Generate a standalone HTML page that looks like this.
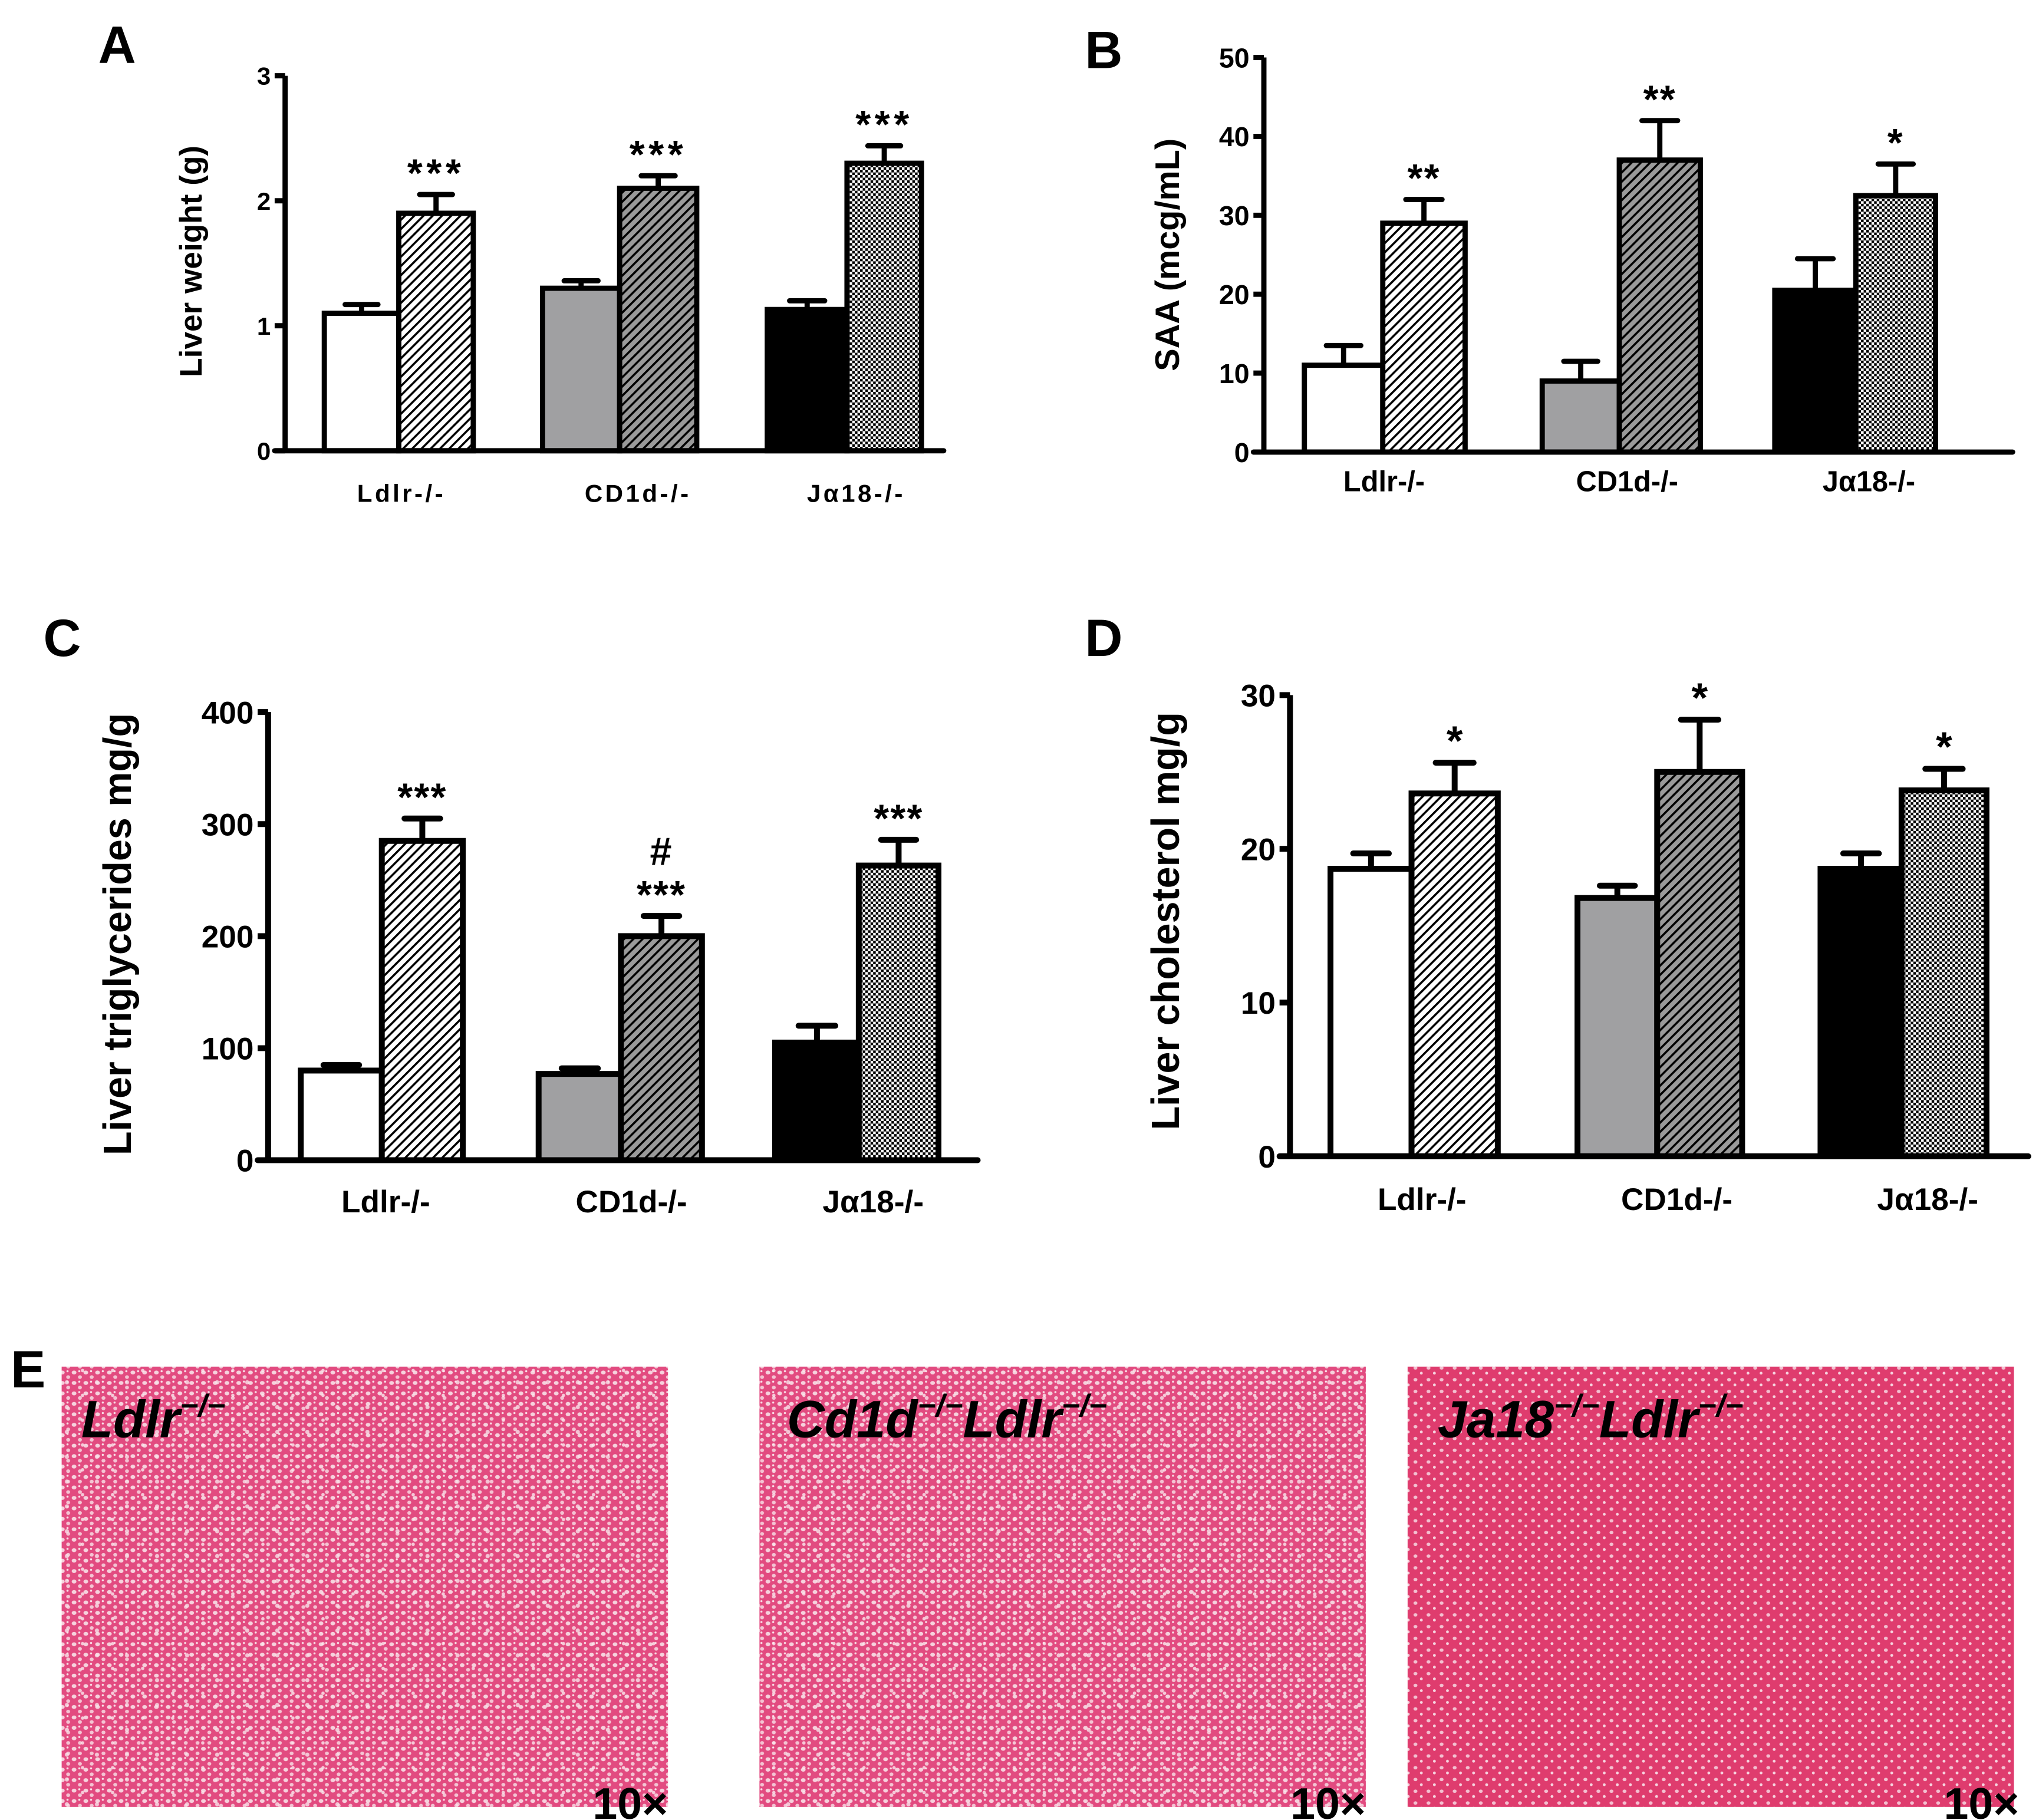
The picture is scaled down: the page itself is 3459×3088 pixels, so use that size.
<!DOCTYPE html>
<html><head><meta charset="utf-8"><style>
html,body{margin:0;padding:0;background:#fff}
svg{display:block}
text{font-family:"Liberation Sans",Arial,sans-serif;font-weight:bold}
</style></head><body>
<svg id="fig" width="3459" height="3088" viewBox="0 0 1560 1393" xmlns="http://www.w3.org/2000/svg">
<defs>
<pattern id="hatchW" patternUnits="userSpaceOnUse" width="5" height="5" patternTransform="rotate(45)"><rect width="5" height="5" fill="#fff"/><rect width="1.6" height="5" fill="#000"/></pattern>
<pattern id="hatchG" patternUnits="userSpaceOnUse" width="5" height="5" patternTransform="rotate(45)"><rect width="5" height="5" fill="#9a9a9a"/><rect width="1.6" height="5" fill="#000"/></pattern>
<pattern id="checker" patternUnits="userSpaceOnUse" width="4" height="4"><rect width="4" height="4" fill="#fff"/><rect width="2" height="2" fill="#000"/><rect x="2" y="2" width="2" height="2" fill="#000"/></pattern>
<pattern id="tissue" patternUnits="userSpaceOnUse" width="9" height="8"><rect width="9" height="8" fill="#e24b80"/><ellipse cx="2.5" cy="2.5" rx="1.8" ry="1.5" fill="#f6d2dd"/><ellipse cx="7" cy="6" rx="1.5" ry="1.4" fill="#f4c4d3"/><circle cx="6.5" cy="1.5" r="0.8" fill="#f9e0e8"/></pattern>
<pattern id="tissueB" patternUnits="userSpaceOnUse" width="23" height="19"><circle cx="5" cy="13" r="1.6" fill="#f9e4ea" opacity="0.8"/><circle cx="17" cy="4" r="1.3" fill="#fbe8ee" opacity="0.8"/></pattern>
<pattern id="tissue2" patternUnits="userSpaceOnUse" width="10" height="9"><rect width="10" height="9" fill="#df3c6e"/><ellipse cx="3" cy="3" rx="1.5" ry="1.3" fill="#f3c0d0"/><circle cx="7.5" cy="7" r="1.1" fill="#f6d4df"/></pattern>
</defs>
<g id="charts"></g>
<g>
<text x="8" y="1062" font-size="40">E</text>
<rect x="47" y="1046" width="464" height="337" fill="url(#tissue)"/>
<rect x="47" y="1046" width="464" height="337" fill="url(#tissueB)"/>
<rect x="581" y="1046" width="464" height="337" fill="url(#tissue)"/>
<rect x="581" y="1046" width="464" height="337" fill="url(#tissueB)"/>
<rect x="1077" y="1046" width="464" height="337" fill="url(#tissue2)"/>
<text x="62" y="1100" font-size="40" font-style="italic">Ldlr<tspan font-size="24" dy="-16">−/−</tspan></text>
<text x="602" y="1100" font-size="40" font-style="italic">Cd1d<tspan font-size="24" dy="-16">−/−</tspan><tspan dy="16">Ldlr</tspan><tspan font-size="24" dy="-16">−/−</tspan></text>
<text x="1100" y="1100" font-size="40" font-style="italic">Ja18<tspan font-size="24" dy="-16">−/−</tspan><tspan dy="16">Ldlr</tspan><tspan font-size="24" dy="-16">−/−</tspan></text>
<text x="511" y="1392" font-size="34" text-anchor="end">10×</text>
<text x="1045" y="1392" font-size="34" text-anchor="end">10×</text>
<text x="1545" y="1392" font-size="34" text-anchor="end">10×</text>
</g>
</svg>
<script>
const groups = ["Ldlr-/-","CD1d-/-","Jα18-/-"];
const aCtrl = [1.1,1.3,1.13];
const aDiet = [1.9,2.1,2.3];
const aCtrlErr = [0.07,0.06,0.07];
const aDietErr = [0.15,0.1,0.14];
const aTicks = [0,1,2,3];
const aStars = ["***","***","***"];
const bCtrl = [11,9,20.5];
const bDiet = [29,37,32.5];
const bCtrlErr = [2.5,2.5,4];
const bDietErr = [3,5,4];
const bTicks = [0,10,20,30,40,50];
const bStars = ["**","**","*"];
const cCtrl = [80,77,105];
const cDiet = [285,200,263];
const cCtrlErr = [5,5,15];
const cDietErr = [20,18,23];
const cTicks = [0,100,200,300,400];
const cStars = ["***","#\n***","***"];
const dCtrl = [18.7,16.8,18.7];
const dDiet = [23.6,25,23.8];
const dCtrlErr = [1,0.8,1];
const dDietErr = [2,3.4,1.4];
const dTicks = [0,10,20,30];
const dStars = ["*","*","*"];

const NS="http://www.w3.org/2000/svg";
const root=document.getElementById('charts');
function mk(tag,attrs,parent){const e=document.createElementNS(NS,tag);for(const k in attrs)e.setAttribute(k,attrs[k]);parent.appendChild(e);return e;}
const ctrlFill=["#fff","#a0a0a2","#000"];
const dietFill=["url(#hatchW)","url(#hatchG)","url(#checker)"];

function chart(cfg){
  const g=mk('g',{},root);
  
  
  const yMax=cfg.ticks[cfg.ticks.length-1];
  const y=v=>cfg.y0-(v/yMax)*(cfg.y0-cfg.yTop);
  const lw=cfg.lw;
  for(let i=0;i<groups.length;i++){
    const [x0,x1,x2]=cfg.bx[i];
    const pairs=[[x0,x1,cfg.ctrl[i],cfg.ctrlErr[i],ctrlFill[i],'control'],[x1,x2,cfg.diet[i],cfg.dietErr[i],dietFill[i],'diet']];
    pairs.forEach(p=>{
      const cx=(p[0]+p[1])/2, yt=y(p[2]), ye=y(p[2]+p[3]);
      const el=mk('line',{x1:cx,x2:cx,y1:yt,y2:ye,stroke:'#000','stroke-width':lw},g);
      
      
      const cap=mk('line',{x1:cx-(p[1]-p[0])*0.22,x2:cx+(p[1]-p[0])*0.22,y1:ye,y2:ye,stroke:'#000','stroke-width':lw,'stroke-linecap':'round'},g);
      
      
      const r=mk('rect',{x:p[0],y:yt,width:p[1]-p[0],height:cfg.y0-yt,fill:p[4],stroke:'#000','stroke-width':lw},g);
      
      
    });
    const sx=(x1+x2)/2, sy=y(cfg.diet[i]+cfg.dietErr[i])-6;
    const lines=cfg.stars[i].split('\n');
    lines.forEach((s,j)=>{
      const t=mk('text',{x:sx,y:sy-(lines.length-1-j)*cfg.ssz*1.1,'font-size':cfg.ssz,'text-anchor':'middle','letter-spacing':cfg.sls},g);
      t.textContent=s;
      
      
    });
    const lab=mk('text',{x:cfg.lx[i],y:cfg.ly,'font-size':cfg.fs,'text-anchor':'middle','letter-spacing':cfg.ls},g);
    lab.textContent=groups[i];
    
    
  }
  const ya=mk('line',{x1:cfg.ax,x2:cfg.ax,y1:cfg.yTop,y2:cfg.y0,stroke:'#000','stroke-width':lw},g);
  
  
  const xa=mk('line',{x1:cfg.ax-8,x2:cfg.axEnd,y1:cfg.y0,y2:cfg.y0,stroke:'#000','stroke-width':lw,'stroke-linecap':'round'},g);
  
  
  cfg.ticks.forEach(v=>{
    const tk=mk('line',{x1:cfg.ax-8,x2:cfg.ax,y1:y(v),y2:y(v),stroke:'#000','stroke-width':lw},g);
    
    
    const t=mk('text',{x:cfg.ax-11,y:y(v)+cfg.tfs*0.36,'font-size':cfg.tfs,'text-anchor':'end'},g);
    t.textContent=v;
    
    
  });
  const tt=mk('text',{x:cfg.tx,y:cfg.ty,'font-size':cfg.tsz,'text-anchor':'middle',transform:`rotate(-90 ${cfg.tx} ${cfg.ty})`},g);
  tt.textContent=cfg.title;
  
  
  const pl=mk('text',{x:cfg.px,y:cfg.py,'font-size':40},g);
  pl.textContent=cfg.letter;
  
  
}
chart({name:'panel-a',letter:'A',px:75,py:48,ctrl:aCtrl,diet:aDiet,ctrlErr:aCtrlErr,dietErr:aDietErr,ticks:aTicks,stars:aStars,ssz:30,sls:3,
  ax:218,axEnd:722,yTop:58,y0:345,bx:[[248,305,362],[415,474,533],[587,648,705]],lx:[307,488,655],ly:384,fs:19,ls:2,tfs:19,lw:4,
  title:'Liver weight (g)',tx:154,ty:200,tsz:24});
chart({name:'panel-b',letter:'B',px:830,py:52,ctrl:bCtrl,diet:bDiet,ctrlErr:bCtrlErr,dietErr:bDietErr,ticks:bTicks,stars:bStars,ssz:30,sls:1,
  ax:967,axEnd:1540,yTop:44,y0:346,bx:[[998,1058,1121],[1180,1239,1301],[1358,1420,1481]],lx:[1059,1245,1430],ly:376,fs:22,ls:0,tfs:21,lw:4,
  title:'SAA (mcg/mL)',tx:902,ty:195,tsz:26});
chart({name:'panel-c',letter:'C',px:33,py:502,ctrl:cCtrl,diet:cDiet,ctrlErr:cCtrlErr,dietErr:cDietErr,ticks:cTicks,stars:cStars,ssz:30,sls:1,
  ax:205,axEnd:748,yTop:545,y0:888,bx:[[230,292,354],[412,475,537],[593,657,718]],lx:[295,483,668],ly:928,fs:24,ls:0,tfs:24,lw:4.5,
  title:'Liver triglycerides mg/g',tx:100,ty:715,tsz:30});
chart({name:'panel-d',letter:'D',px:830,py:502,ctrl:dCtrl,diet:dDiet,ctrlErr:dCtrlErr,dietErr:dDietErr,ticks:dTicks,stars:dStars,ssz:32,sls:0,
  ax:987,axEnd:1552,yTop:532,y0:885,bx:[[1018,1080,1146],[1207,1268,1333],[1393,1455,1520]],lx:[1088,1283,1475],ly:926,fs:24,ls:0,tfs:24,lw:4.5,
  title:'Liver cholesterol mg/g',tx:902,ty:705,tsz:30});
</script>
</body></html>
